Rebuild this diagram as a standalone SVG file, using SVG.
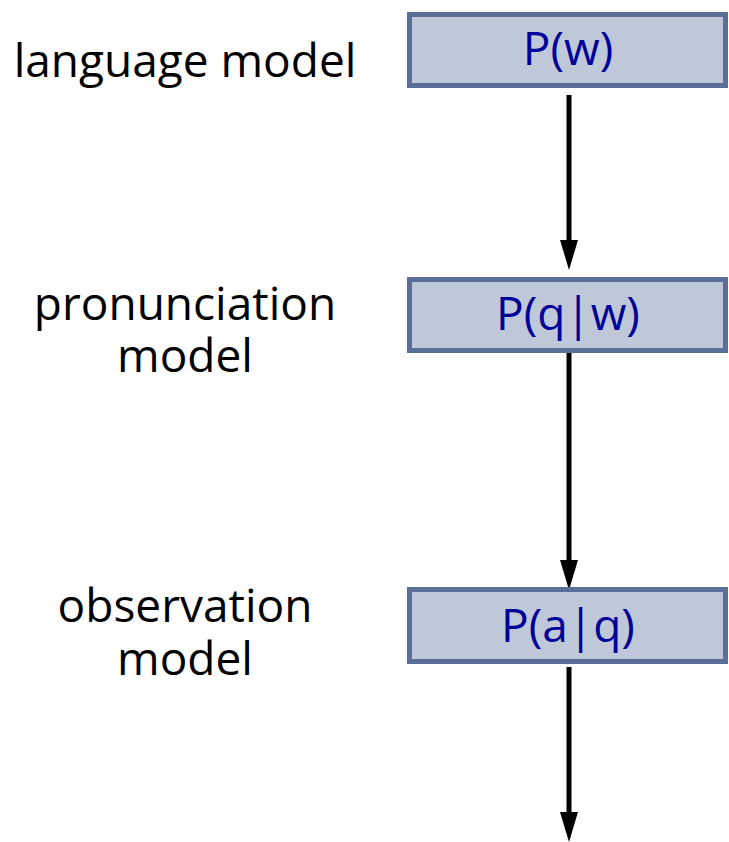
<svg xmlns="http://www.w3.org/2000/svg" width="729" height="842" viewBox="0 0 729 842">
<defs>
<style>
.box{fill:#bfc8d9;stroke:#5a6f97;stroke-width:5}
.bt{font-family:"Open Sans","Noto Sans",sans-serif;font-size:46px;fill:#000099;text-anchor:middle}
.lt{font-family:"Open Sans","Noto Sans",sans-serif;font-size:46px;fill:#000;text-anchor:middle}
.ar{stroke:#000;stroke-width:5;fill:none}
.hd{fill:#000}
</style>
</defs>
<g id="connectors">
<line class="ar" x1="569" y1="95" x2="569" y2="246"/>
<path class="hd" d="M560,240 L578,240 L569,270 Z"/>
<line class="ar" x1="569" y1="352" x2="569" y2="566"/>
<path class="hd" d="M560,560 L578,560 L569,590 Z"/>
<line class="ar" x1="569" y1="667" x2="569" y2="818"/>
<path class="hd" d="M560,812 L578,812 L569,842 Z"/>
</g>
<g id="node-lm">
<rect class="box" x="409.5" y="14.5" width="316" height="71"/>
<text class="bt" x="568" y="65">P(w)</text>
</g>
<g id="node-pm">
<rect class="box" x="409.5" y="279.5" width="316" height="71"/>
<text class="bt" x="568" y="330">P(q|w)</text>
</g>
<g id="node-om">
<rect class="box" x="409.5" y="589.5" width="316" height="72"/>
<text class="bt" x="568" y="642">P(a|q)</text>
</g>
<g id="label-lm"><text class="lt" x="185" y="77">language model</text></g>
<g id="label-pm"><text class="lt" x="185" y="320">pronunciation</text><text class="lt" x="185" y="372">model</text></g>
<g id="label-om"><text class="lt" x="185" y="622">observation</text><text class="lt" x="185" y="675">model</text></g>
</svg>
